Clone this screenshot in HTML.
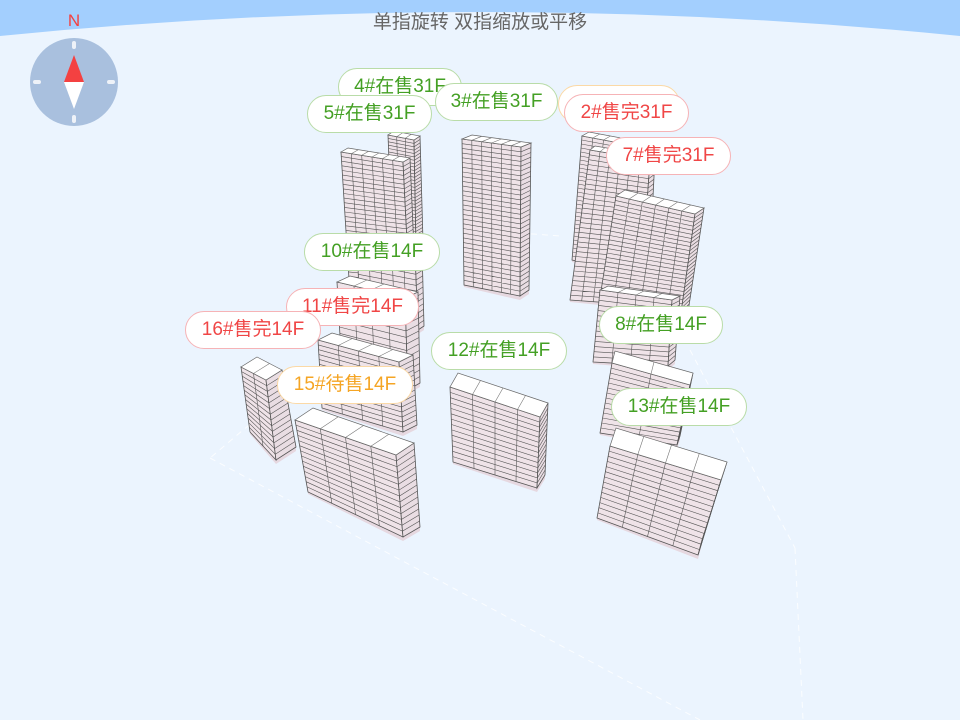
<!DOCTYPE html>
<html><head><meta charset="utf-8"><style>
html,body{margin:0;padding:0;width:960px;height:720px;overflow:hidden;background:#ebf4fe;font-family:"Liberation Sans","Noto Sans CJK SC",sans-serif}
#wrap{position:relative;width:960px;height:720px}
svg{position:absolute;left:0;top:0}
.t{position:absolute;left:0;width:960px;top:7px;text-align:center;color:#666;font-size:19px}
.p{position:absolute;height:36px;line-height:36px;border-radius:19px;background:#fff;border:1px solid;text-align:center;font-size:19px;box-sizing:content-box;white-space:nowrap}
.g{color:#44a024;border-color:#b9dca8}.r{color:#f04646;border-color:#f6b3b6}.o{color:#f5a524;border-color:#fbd9a6}
</style></head><body><div id="wrap">
<svg width="960" height="720" viewBox="0 0 960 720">
<path d="M0,0H960V36Q480,-12 0,36Z" fill="#a3cffe"/>
<g stroke="#fff" stroke-width="1" stroke-dasharray="6,5" fill="none" opacity="0.8">
<path d="M210,458L700,720M795,548L803,720M690,350L795,548M300,382L210,458M520,233L560,236"/>
</g>
<circle cx="74" cy="82" r="44" fill="#a9c0de"/>
<g stroke="#eef2f8" stroke-width="4" stroke-linecap="round">
<path d="M74,43v4M74,117v4M35,82h4M109,82h4"/></g>
<path d="M74,55L64,82H84Z" fill="#f44141"/><path d="M64,82H84L74,109Z" fill="#fff"/>
<text x="74" y="26" font-size="17" fill="#f44141" text-anchor="middle" font-family="Liberation Sans">N</text>
<g id="b"></g>
</svg>
<div class="t">单指旋转 双指缩放或平移</div>
<div class="p g" style="left:338px;top:68px;width:122px">4#在售31F</div>
<div class="p o" style="left:558px;top:85px;width:120px"></div>
<div class="p g" style="left:435px;top:83px;width:121px">3#在售31F</div>
<div class="p g" style="left:307px;top:95px;width:123px">5#在售31F</div>
<div class="p r" style="left:564px;top:94px;width:123px">2#售完31F</div>
<div class="p r" style="left:606px;top:137px;width:123px">7#售完31F</div>
<div class="p g" style="left:304px;top:233px;width:134px">10#在售14F</div>
<div class="p r" style="left:286px;top:288px;width:131px">11#售完14F</div>
<div class="p r" style="left:185px;top:311px;width:134px">16#售完14F</div>
<div class="p g" style="left:599px;top:306px;width:122px">8#在售14F</div>
<div class="p g" style="left:431px;top:332px;width:134px">12#在售14F</div>
<div class="p o" style="left:277px;top:366px;width:134px">15#待售14F</div>
<div class="p g" style="left:611px;top:388px;width:134px">13#在售14F</div>
</div>
<script>
var B=[
[[388,135],[414,140],[420,136],[392,240],[416,245],[423,241],3,31],
[[582,136],[625,144],[632,140],[572,260],[610,268],[616,264],4,31],
[[462,139],[521,147],[531,143],[464,285],[520,296],[529,290],6,31],
[[590,150],[650,160],[655,156],[570,300],[640,305],[648,300],6,31],
[[341,152],[403,162],[410,158],[350,295],[410,300],[416,296],6,31],
[[616,196],[695,214],[704,208],[598,310],[680,320],[688,312],6,26],
[[357,240],[415,252],[422,248],[360,320],[418,330],[424,326],5,14],
[[337,282],[405,298],[418,292],[342,372],[408,390],[420,383],4,14],
[[600,290],[672,300],[680,296],[593,362],[668,366],[675,360],4,14],
[[318,340],[399,362],[413,355],[322,408],[403,432],[417,425],4,14],
[[450,387],[540,417],[548,403],[453,462],[537,488],[545,475],4,14],
[[241,367],[266,380],[282,370],[250,432],[276,460],[296,447],2,14],
[[612,363],[690,385],[693,373],[600,433],[677,445],[680,436],2,14],
[[610,446],[721,480],[727,462],[597,518],[698,555],[702,540],4,14],
[[295,420],[396,455],[414,443],[308,492],[403,537],[420,527],4,14]];
function L(a,b,t){return [a[0]+(b[0]-a[0])*t,a[1]+(b[1]-a[1])*t]}
function P(p){return p.map(function(q){return q[0].toFixed(1)+','+q[1].toFixed(1)}).join(' ')}
var s='';
B.forEach(function(b){var A=b[0],Bp=b[1],C=b[2],A2=b[3],B2=b[4],C2=b[5],c=b[6],n=b[7];
var D=[A[0]+C[0]-Bp[0],A[1]+C[1]-Bp[1]];
s+='<polygon points="'+P([[A2[0],A2[1]+2],[B2[0],B2[1]+4],[C2[0],C2[1]+4],C2,B2,A2])+'" fill="#e6d8e0"/>';
s+='<polygon points="'+P([A,Bp,B2,A2])+'" fill="#efe3e8" stroke="#555" stroke-width="0.8"/>';
s+='<polygon points="'+P([Bp,C,C2,B2])+'" fill="#e9dde3" stroke="#555" stroke-width="0.8"/>';
var d='';
for(var i=1;i<n;i++){var t=i/n;var p=L(A,A2,t),q=L(Bp,B2,t),r=L(C,C2,t);d+='M'+P([p])+'L'+P([q])+'L'+P([r]);}
for(var j=1;j<c;j++){var t=j/c;var p=L(A,Bp,t),q=L(A2,B2,t);d+='M'+P([p])+'L'+P([q]);}
s+='<path d="'+d+'" stroke="#555" stroke-width="0.6" fill="none"/>';
s+='<polygon points="'+P([A,Bp,C,D])+'" fill="#fff" stroke="#666" stroke-width="0.7"/>';
var d2='';for(var j=1;j<c;j++){var t=j/c;d2+='M'+P([L(A,Bp,t)])+'L'+P([L(D,C,t)]);}
s+='<path d="'+d2+'" stroke="#777" stroke-width="0.6"/>';
});
document.getElementById('b').innerHTML=s;
</script>
</body></html>
